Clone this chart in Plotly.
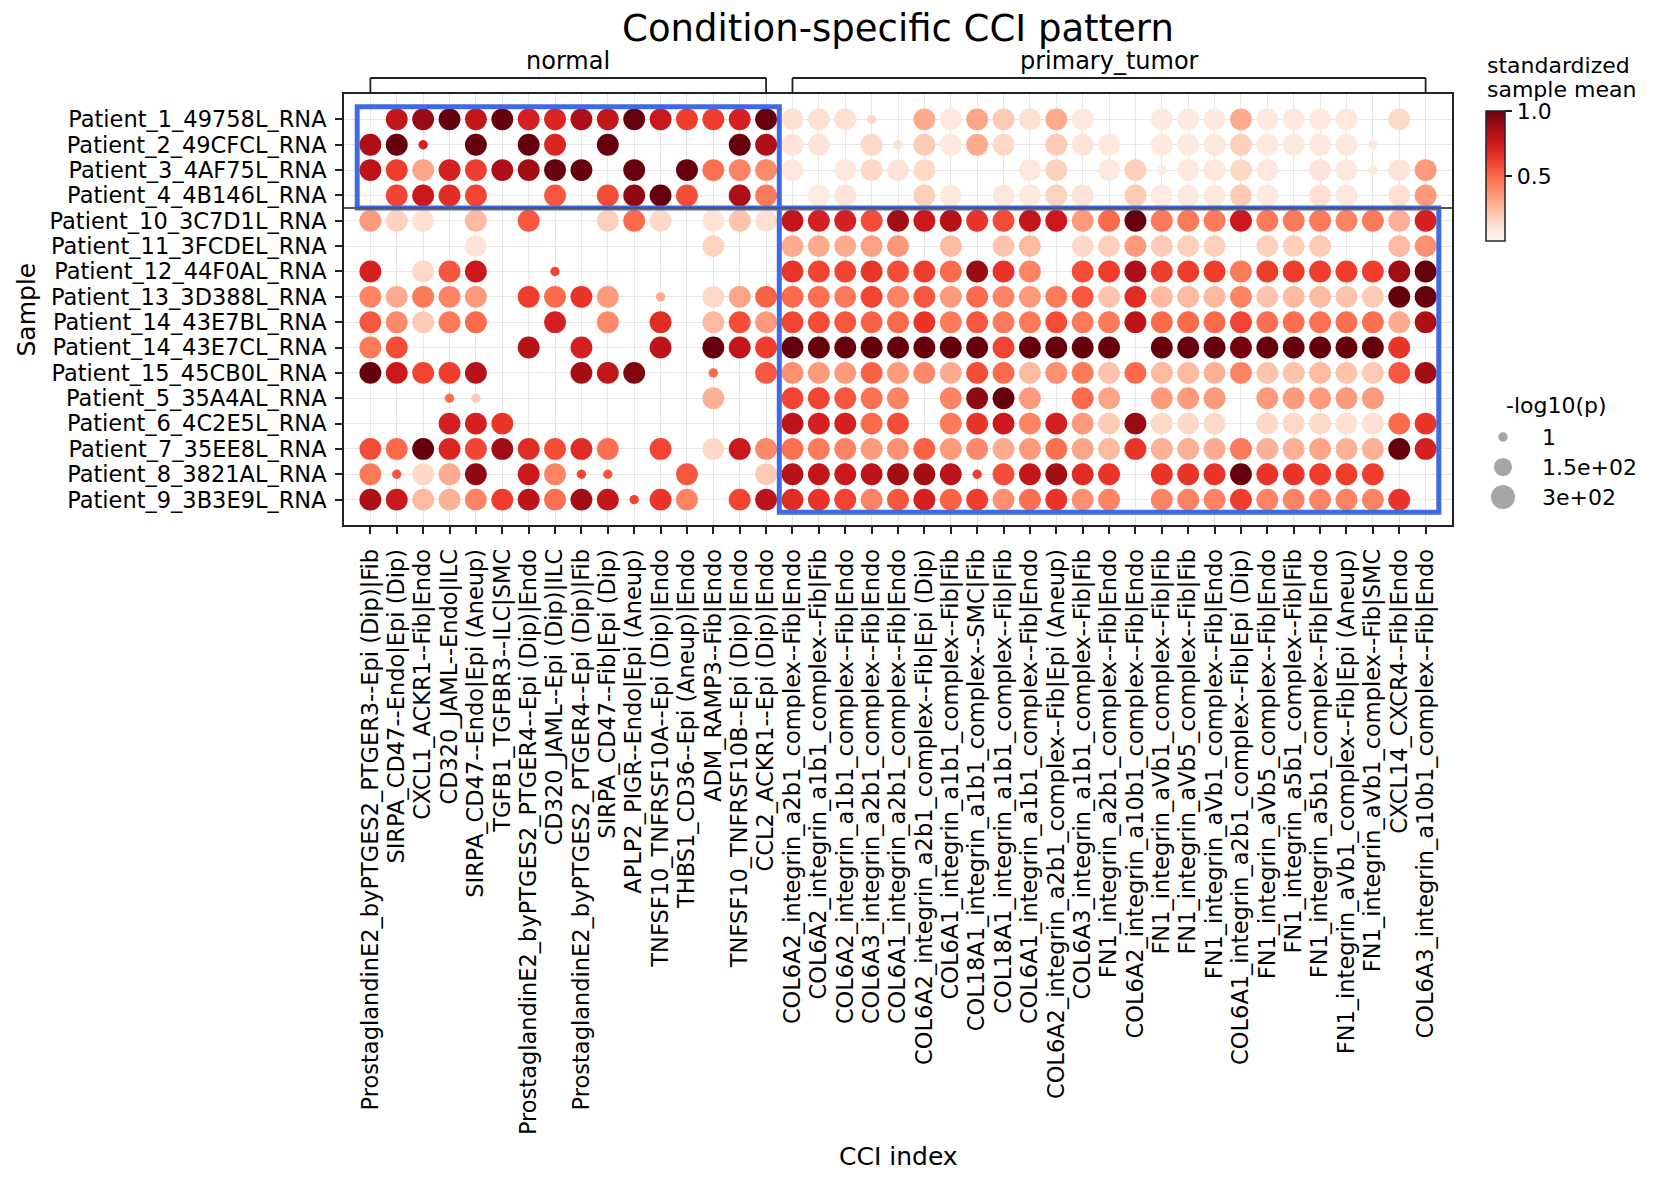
import plotly.graph_objects as go

# ---- data -------------------------------------------------------------
samples = [
    "Patient_1_49758L_RNA", "Patient_2_49CFCL_RNA", "Patient_3_4AF75L_RNA",
    "Patient_4_4B146L_RNA", "Patient_10_3C7D1L_RNA", "Patient_11_3FCDEL_RNA",
    "Patient_12_44F0AL_RNA", "Patient_13_3D388L_RNA", "Patient_14_43E7BL_RNA",
    "Patient_14_43E7CL_RNA", "Patient_15_45CB0L_RNA", "Patient_5_35A4AL_RNA",
    "Patient_6_4C2E5L_RNA", "Patient_7_35EE8L_RNA", "Patient_8_3821AL_RNA",
    "Patient_9_3B3E9L_RNA",
]

normal_cci = [
    "ProstaglandinE2_byPTGES2_PTGER3--Epi (Dip)|Fib",
    "SIRPA_CD47--Endo|Epi (Dip)",
    "CXCL1_ACKR1--Fib|Endo",
    "CD320_JAML--Endo|ILC",
    "SIRPA_CD47--Endo|Epi (Aneup)",
    "TGFB1_TGFBR3--ILC|SMC",
    "ProstaglandinE2_byPTGES2_PTGER4--Epi (Dip)|Endo",
    "CD320_JAML--Epi (Dip)|ILC",
    "ProstaglandinE2_byPTGES2_PTGER4--Epi (Dip)|Fib",
    "SIRPA_CD47--Fib|Epi (Dip)",
    "APLP2_PIGR--Endo|Epi (Aneup)",
    "TNFSF10_TNFRSF10A--Epi (Dip)|Endo",
    "THBS1_CD36--Epi (Aneup)|Endo",
    "ADM_RAMP3--Fib|Endo",
    "TNFSF10_TNFRSF10B--Epi (Dip)|Endo",
    "CCL2_ACKR1--Epi (Dip)|Endo",
]

tumor_cci = [
    "COL6A2_integrin_a2b1_complex--Fib|Endo",
    "COL6A2_integrin_a1b1_complex--Fib|Fib",
    "COL6A2_integrin_a1b1_complex--Fib|Endo",
    "COL6A3_integrin_a2b1_complex--Fib|Endo",
    "COL6A1_integrin_a2b1_complex--Fib|Endo",
    "COL6A2_integrin_a2b1_complex--Fib|Epi (Dip)",
    "COL6A1_integrin_a1b1_complex--Fib|Fib",
    "COL18A1_integrin_a1b1_complex--SMC|Fib",
    "COL18A1_integrin_a1b1_complex--Fib|Fib",
    "COL6A1_integrin_a1b1_complex--Fib|Endo",
    "COL6A2_integrin_a2b1_complex--Fib|Epi (Aneup)",
    "COL6A3_integrin_a1b1_complex--Fib|Fib",
    "FN1_integrin_a2b1_complex--Fib|Endo",
    "COL6A2_integrin_a10b1_complex--Fib|Endo",
    "FN1_integrin_aVb1_complex--Fib|Fib",
    "FN1_integrin_aVb5_complex--Fib|Fib",
    "FN1_integrin_aVb1_complex--Fib|Endo",
    "COL6A1_integrin_a2b1_complex--Fib|Epi (Dip)",
    "FN1_integrin_aVb5_complex--Fib|Endo",
    "FN1_integrin_a5b1_complex--Fib|Fib",
    "FN1_integrin_a5b1_complex--Fib|Endo",
    "FN1_integrin_aVb1_complex--Fib|Epi (Aneup)",
    "FN1_integrin_aVb1_complex--Fib|SMC",
    "CXCL14_CXCR4--Fib|Endo",
    "COL6A3_integrin_a10b1_complex--Fib|Endo",
]

cci = normal_cci + tumor_cci
N = None

# standardized sample mean, one list per sample (16 normal CCIs, then 25 tumor CCIs)
p1_mean = [N, .78, .9, 1.0, .78, 1.0, .72, .7, .85, .78, 1.0, .75, .62, .62, .72, 1.0,
           .12, .12, .12, .15, N, .3, .08, .32, .2, .12, .3, .08, N, N, .07, .07, .07, .3, .07, .07, .08, .08, N, .15, N]
p2_mean = [.85, 1.0, .72, N, 1.0, N, 1.0, .7, N, 1.0, N, N, N, N, 1.0, .85,
           .1, .1, N, .15, .12, .2, .07, .3, .15, N, .2, .1, .07, N, .07, .07, .08, .18, .07, .07, .08, .08, .07, N, N]
p3_mean = [.8, .62, .32, .72, .62, .85, .88, 1.0, 1.0, N, 1.0, N, 1.0, .48, .42, .4,
           .08, N, .08, .15, .1, .15, N, N, N, .08, .18, N, .07, .18, .07, .07, .08, .15, .08, N, .1, .08, .07, .1, .35]
p4_mean = [N, .6, .75, .68, .6, N, N, .55, N, .58, .92, 1.0, .58, N, .85, .45,
           N, .06, .1, N, N, .18, .07, N, .08, .07, .17, .1, N, .2, .06, .07, .07, .2, .07, N, .12, .08, N, .12, .35]
p10_mean = [.35, .17, .12, N, .25, N, .55, N, N, .18, .5, .15, N, .1, .22, .13,
            .78, .72, .72, .58, .88, .75, .82, .65, .58, .78, .75, .35, .5, 1.0, .45, .45, .45, .75, .45, .45, .45, .42, .45, .28, .72]
p11_mean = [N, N, N, N, .1, N, N, N, N, N, N, N, N, .17, N, N,
            .3, .3, .3, .33, .36, N, .25, N, .22, .25, N, .15, .18, .35, .2, .18, .18, N, .18, .18, .2, N, N, .25, .38]
p12_mean = [.72, N, .15, .55, .75, N, N, .6, N, N, N, N, N, N, N, N,
            .65, .6, .6, .65, .58, .62, .5, .9, .65, .42, N, .58, .62, .85, .62, .62, .62, .45, .62, .62, .62, .62, .62, .88, 1.0]
p13_mean = [.42, .3, .45, .42, .35, N, .62, .5, .65, .35, N, .3, N, .15, .32, .52,
            .5, .48, .45, .6, .42, .55, .35, .5, .42, .35, .45, .55, .22, .68, .25, .25, .25, .42, .22, .25, .25, .22, .2, 1.0, 1.0]
p14b_mean = [.55, .4, .2, .45, .5, N, N, .72, N, .4, N, .68, N, .25, .58, .35,
             .6, .58, .55, .52, .5, .65, .45, .55, .45, .45, .58, .45, .45, .8, .5, .5, .5, .6, .48, .48, .48, .48, .48, .3, .85]
p14c_mean = [.45, .58, N, N, N, N, .82, N, .72, N, N, .8, N, 1.0, .78, .62,
             1.0, 1.0, 1.0, 1.0, 1.0, 1.0, 1.0, 1.0, .6, 1.0, 1.0, 1.0, 1.0, N, 1.0, 1.0, 1.0, .97, 1.0, 1.0, 1.0, 1.0, 1.0, .65, N]
p15_mean = [1.0, .75, .6, .62, .82, N, N, N, .88, .78, .95, N, N, .5, N, .55,
            .38, .35, .35, .52, .35, .4, .3, .58, .5, .25, .38, .45, .22, .5, .25, .25, .28, .42, .22, .22, .25, .22, .2, .55, .88]
p5_mean = [N, N, N, .48, .2, N, N, N, N, N, N, N, N, .28, N, N,
           .6, .6, .55, .48, .42, N, .42, .92, 1.0, .35, N, .5, .32, N, .35, .35, .35, N, .35, .35, .35, .35, .35, N, N]
p6_mean = [N, N, N, .72, .72, .65, N, N, N, N, N, N, N, N, N, N,
           .8, .72, .72, .5, .58, N, .45, .65, .75, .42, .72, .35, .2, .9, .15, .15, .15, N, .15, .15, .15, .12, .12, .5, .65]
p7_mean = [.58, .5, 1.0, .7, .6, .88, .68, .58, .68, .48, N, .6, N, .15, .75, .4,
           .48, .45, .42, .35, .38, .52, .35, .4, .3, .35, .48, .32, .25, .65, .28, .28, .3, .45, .28, .28, .32, .28, .28, 1.0, .72]
p8_mean = [.45, .55, .15, .3, .92, N, .75, .42, .6, .55, N, N, .55, N, N, .2,
           .82, .78, .75, .8, .88, .88, .8, .62, .58, .78, .88, .68, .65, N, .65, .65, .65, 1.0, .65, .65, .62, .62, .62, N, N]
p9_mean = [.85, .75, .25, .28, .42, .62, .8, .48, .88, .78, .6, .65, .42, N, .6, .8,
           .68, .65, .6, .42, .55, .72, .52, .62, .38, .48, .65, .38, .42, N, .42, .42, .42, .62, .42, .42, .42, .42, .42, .65, N]

mean_rows = [p1_mean, p2_mean, p3_mean, p4_mean, p10_mean, p11_mean, p12_mean, p13_mean,
             p14b_mean, p14c_mean, p15_mean, p5_mean, p6_mean, p7_mean, p8_mean, p9_mean]

# -log10(p): almost every hit is strong; these cells (column index) are weak
strong_nlp = 240
weak_nlp = 1
weak_cells = {
    "Patient_1_49758L_RNA": [19],
    "Patient_2_49CFCL_RNA": [2, 20, 38],
    "Patient_3_4AF75L_RNA": [30, 38],
    "Patient_12_44F0AL_RNA": [7],
    "Patient_13_3D388L_RNA": [11],
    "Patient_15_45CB0L_RNA": [13],
    "Patient_5_35A4AL_RNA": [3, 4],
    "Patient_8_3821AL_RNA": [1, 8, 9, 23],
    "Patient_9_3B3E9L_RNA": [10],
}
legend_nlp = [1, 150, 300]
legend_text = ["1", "1.5e+02", "3e+02"]

# matplotlib "Reds"
reds = [
    [0.0, "#fff5f0"], [0.125, "#fee0d2"], [0.25, "#fcbba1"], [0.375, "#fc9272"],
    [0.5, "#fb6a4a"], [0.625, "#ef3b2c"], [0.75, "#cb181d"], [0.875, "#a50f15"],
    [1.0, "#67000d"],
]

# ---- geometry helpers ---------------------------------------------------
W, H = 1656, 1186
ML, MR, MT, MB = 344, 16, 94, 661
PW = W - ML - MR
PH = H - MT - MB
FONT = "DejaVu Sans"
TICK_SIZE = 22.5


def px_x(px):
    return (px - ML) / PW


def px_y(py):
    return (H - MB - py) / PH


def dot_diameter(v):
    # scatter area grows linearly with -log10(p)
    return (9.3 ** 2 + (24 ** 2 - 9.3 ** 2) * v / 300) ** 0.5


xs, ys, cs, ss = [], [], [], []
for name, row in zip(samples, mean_rows):
    weak = weak_cells.get(name, [])
    for j, val in enumerate(row):
        if val is None:
            continue
        xs.append(cci[j])
        ys.append(name)
        cs.append(val)
        ss.append(dot_diameter(weak_nlp if j in weak else strong_nlp))

fig = go.Figure()
fig.add_trace(go.Scatter(
    x=xs, y=ys, mode="markers", showlegend=False,
    marker=dict(
        size=ss, color=cs, colorscale=reds, cmin=0, cmax=1, opacity=1,
        line=dict(width=0),
        colorbar=dict(
            x=px_x(1486), xanchor="left", xpad=0,
            y=px_y(111), yanchor="top", ypad=0,
            len=130, lenmode="pixels", thickness=19,
            outlinecolor="#222", outlinewidth=1.5,
            ticks="outside", ticklen=7, tickwidth=1.5, tickcolor="#222",
            tickvals=[0.5, 1.0], ticktext=["0.5", "1.0"],
            tickfont=dict(family=FONT, size=22, color="black"),
        ),
    ),
))

# size legend drawn on its own small axes
fig.add_trace(go.Scatter(
    x=[0, 0, 0], y=legend_text, mode="markers", showlegend=False,
    xaxis="x2", yaxis="y2", hoverinfo="skip",
    marker=dict(size=[dot_diameter(v) for v in legend_nlp], color="#808080", line=dict(width=0)),
))

axis_common = dict(
    type="category", showline=True, linecolor="#222", linewidth=1.8, mirror=True,
    showgrid=True, gridcolor="#e6e6e6", gridwidth=1, zeroline=False,
    ticks="outside", ticklen=7, tickwidth=1.5, tickcolor="#222",
    tickfont=dict(family=FONT, size=TICK_SIZE, color="black"), automargin=False,
)

fig.update_layout(
    width=W, height=H,
    margin=dict(l=ML, r=MR, t=MT, b=MB),
    paper_bgcolor="white", plot_bgcolor="white",
    font=dict(family=FONT, color="black"),
    title=dict(text="Condition-specific CCI pattern", x=px_x(898), xref="paper", xanchor="center",
               y=1 - 28 / H, yref="container", yanchor="middle",
               font=dict(family=FONT, size=37, color="black")),
    xaxis=dict(axis_common, domain=[0, px_x(1452)], categoryorder="array", categoryarray=cci,
               tickmode="array", tickvals=cci, ticktext=cci, range=[-1, 41], tickangle=-90,
               ticklabelstandoff=6),
    yaxis=dict(axis_common, categoryorder="array", categoryarray=samples,
               tickmode="array", tickvals=samples, ticktext=samples, range=[16, -1],
               ticklabelstandoff=4),
    xaxis2=dict(domain=[px_x(1471), px_x(1535)], range=[-1, 1], anchor="y2", visible=False),
    yaxis2=dict(domain=[px_y(512), px_y(422)], anchor="x2", type="category",
                categoryorder="array", categoryarray=legend_text, range=[2.5, -0.5],
                side="right", showline=False, showgrid=False, ticks="", zeroline=False,
                ticklabelstandoff=6, automargin=False,
                tickfont=dict(family=FONT, size=22, color="black")),
)

# group brackets and labels
bracket_y = px_y(78)
groups = [("normal", 0, len(normal_cci) - 1), ("primary_tumor", len(normal_cci), len(cci) - 1)]
for label, i0, i1 in groups:
    for x0, y0, x1, y1 in [(i0, 1, i0, bracket_y), (i0, bracket_y, i1, bracket_y), (i1, bracket_y, i1, 1)]:
        fig.add_shape(type="line", xref="x", yref="paper", x0=x0, y0=y0, x1=x1, y1=y1,
                      line=dict(color="#222", width=1.8))
    fig.add_annotation(text=label, x=(i0 + i1) / 2, xref="x", y=px_y(61), yref="paper",
                       showarrow=False, yanchor="middle",
                       font=dict(family=FONT, size=24, color="black"))

# condition-specific blocks
n_norm = len(normal_cci)
n_first = 4  # normal samples listed first
fig.add_shape(type="rect", xref="x", yref="y", x0=-0.5, x1=n_norm - 0.5, y0=-0.5, y1=n_first - 0.5,
              line=dict(color="#4169e1", width=5))
fig.add_shape(type="rect", xref="x", yref="y", x0=n_norm - 0.5, x1=len(cci) - 0.5,
              y0=n_first - 0.5, y1=len(samples) - 0.5, line=dict(color="#4169e1", width=5))
fig.add_shape(type="line", xref="x", yref="y", x0=-1, x1=len(cci), y0=n_first - 0.5, y1=n_first - 0.5,
              line=dict(color="#555555", width=2))

# axis titles, colorbar title, legend title
fig.add_annotation(text="Sample", x=px_x(26), y=px_y(309.5), xref="paper", yref="paper",
                   xanchor="center", yanchor="middle", textangle=-90, showarrow=False,
                   font=dict(family=FONT, size=25, color="black"))
fig.add_annotation(text="CCI index", x=px_x(898), y=px_y(1156), xref="paper", yref="paper",
                   xanchor="center", yanchor="middle", showarrow=False,
                   font=dict(family=FONT, size=25, color="black"))
fig.add_annotation(text="standardized", x=px_x(1485), y=px_y(65), xref="paper", yref="paper",
                   xanchor="left", yanchor="middle", showarrow=False,
                   font=dict(family=FONT, size=22, color="black"))
fig.add_annotation(text="sample mean", x=px_x(1485), y=px_y(90), xref="paper", yref="paper",
                   xanchor="left", yanchor="middle", showarrow=False,
                   font=dict(family=FONT, size=22, color="black"))
fig.add_annotation(text="-log10(p)", x=px_x(1504), y=px_y(405), xref="paper", yref="paper",
                   xanchor="left", yanchor="middle", showarrow=False,
                   font=dict(family=FONT, size=22, color="black"))

fig.write_html("out.html", config={"displayModeBar": False},
               post_script="document.body.style.margin = '0';")
